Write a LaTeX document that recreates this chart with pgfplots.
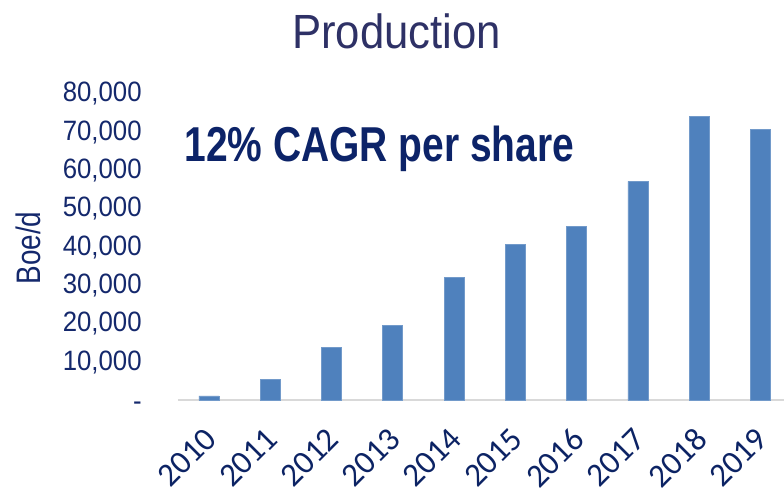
\documentclass[border=0pt]{standalone}
\usepackage{fontspec}
\setmainfont{Liberation Sans}
\usepackage{pgfplots}
\pgfplotsset{compat=1.18}
\newfontfamily\titlefont{Liberation Sans}[FakeStretch=0.91]
\newfontfamily\tickfont{Liberation Sans}[FakeStretch=0.92]
\newfontfamily\narrowfont{Liberation Sans}[FakeStretch=0.82]
\newfontfamily\annfont{Liberation Sans}[FakeStretch=0.795]
\newfontfamily\calfont{Carlito}
\definecolor{barblue}{HTML}{4F81BD}
\definecolor{titlecol}{RGB}{46,49,102}
\definecolor{anncol}{RGB}{12,35,104}
\definecolor{tickcol}{RGB}{20,40,108}
\definecolor{xlabcol}{RGB}{12,35,100}
\definecolor{axisgray}{HTML}{D9D9D9}
\begin{document}
\begin{tikzpicture}
\path[use as bounding box] (0,0) rectangle (392pt,244pt);
\begin{axis}[
  at={(89pt,43.75pt)}, anchor=south west,
  scale only axis, width=303pt, height=153.3pt,
  xmin=-0.506, xmax=9.386, ymin=0, ymax=80000,
  clip=false,
  scaled y ticks=false,
  ybar, bar width=10pt,
  axis x line*=bottom, axis y line*=left,
  x axis line style={draw=axisgray, line width=1pt, -},
  y axis line style={draw=none},
  major tick length=0pt,
  xtick={0,...,9},
  xticklabels={2010,2011,2012,2013,2014,2015,2016,2017,2018,2019},
  xticklabel style={xshift=-3pt, yshift=-12.5pt, font=\calfont\fontsize{16.5}{18}\selectfont, text=xlabcol, inner sep=0pt, anchor=north east, rotate=45},
  ytick={0,10000,20000,30000,40000,50000,60000,70000,80000},
  yticklabels={{\vphantom{0}-\hspace{6.5pt}},{10,000},{20,000},{30,000},{40,000},{50,000},{60,000},{70,000},{80,000}},
  yticklabel style={font=\tickfont\fontsize{14}{16}\selectfont, text=tickcol, anchor=east, inner sep=0pt, xshift=-18pt},
]
\addplot[fill=barblue, draw=barblue!80!white, line width=0.3pt] coordinates {
(0,1200) (1,5500) (2,13900) (3,19500) (4,32100) (5,40750) (6,45500) (7,57200) (8,74150) (9,70650)
};
\end{axis}
\node[anchor=base, inner sep=0pt, text=titlecol, font=\titlefont\fontsize{24}{28}\selectfont] at (198.35pt,219.85pt) {Production};
\node[anchor=base west, inner sep=0pt, text=anncol, font=\annfont\bfseries\fontsize{24.5}{28}\selectfont] at (92pt,163.15pt) {12\% CAGR per share};
\node[rotate=90, inner sep=0pt, text=tickcol, font=\narrowfont\fontsize{17}{20}\selectfont] at (14pt,120pt) {Boe/d};
\end{tikzpicture}
\end{document}
